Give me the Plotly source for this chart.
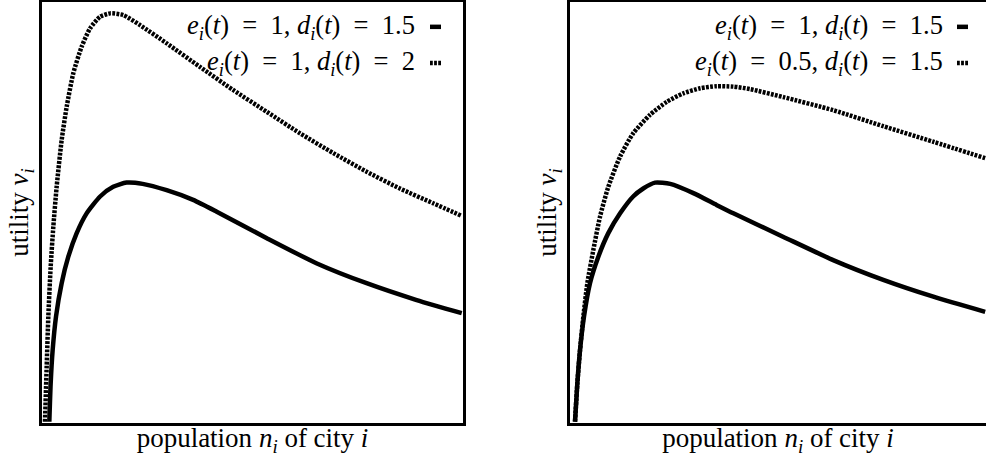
import plotly.graph_objects as go

# normalised population (x) and utility (y)
left_x_solid = [1.74, 2.06, 2.53, 3.33, 4.67, 6.25, 8.24, 10.6, 13.8, 16.9, 20.1, 23.9, 29.6, 35.9,
                41.5, 53.4, 65.3, 77.1, 89.0, 99.7]
left_y_solid = [0.3, 9.4, 17.3, 25.3, 33.2, 39.5, 45.1, 49.8, 53.8, 56.1, 57.1, 56.8, 55.3, 53.0,
                50.2, 43.9, 37.9, 33.2, 29.2, 26.1]
left_x_dot = [0.71, 1.11, 1.50, 2.06, 2.69, 3.48, 4.67, 5.86, 7.44, 9.42, 11.4, 13.8, 16.2, 19.3,
              23.3, 29.6, 37.5, 45.4, 53.4, 61.3, 69.2, 77.1, 85.0, 92.9, 99.7]
left_y_dot = [0.3, 13.4, 25.3, 37.1, 46.6, 56.1, 67.2, 75.1, 83.1, 89.4, 93.7, 96.5, 97.3, 96.9,
              94.5, 90.2, 84.6, 79.1, 73.9, 68.8, 64.1, 59.7, 55.7, 52.2, 49.2]

right_x_solid = [1.19, 1.74, 2.38, 3.33, 4.75, 6.73, 9.10, 11.9, 15.0, 17.4, 20.2, 23.8, 29.3, 34.8,
                 38.8, 50.7, 62.5, 74.4, 86.3, 98.6]
right_y_solid = [0.3, 9.4, 17.3, 25.3, 33.2, 39.5, 45.1, 49.8, 53.8, 55.7, 57.1, 56.8, 54.6, 51.8,
                 49.8, 44.2, 38.7, 34.0, 30.0, 26.4]
right_x_dot = [1.19, 1.74, 2.38, 3.17, 4.12, 5.54, 7.13, 9.10, 11.9, 15.0, 19.0, 23.0, 26.9, 30.9,
               34.8, 38.8, 42.8, 50.7, 62.5, 74.4, 86.3, 98.6]
right_y_dot = [0.3, 9.4, 17.3, 25.3, 33.2, 41.1, 49.0, 56.1, 63.3, 68.8, 73.2, 76.3, 78.3, 79.5,
               80.0, 79.9, 79.3, 77.4, 74.3, 70.5, 66.8, 62.9]

EQ = "\u2002=\u2002"
left_labels = [f"<i>e</i><sub><i>i</i></sub>(<i>t</i>){EQ}1, <i>d</i><sub><i>i</i></sub>(<i>t</i>){EQ}1.5",
               f"<i>e</i><sub><i>i</i></sub>(<i>t</i>){EQ}1, <i>d</i><sub><i>i</i></sub>(<i>t</i>){EQ}2"]
right_labels = [f"<i>e</i><sub><i>i</i></sub>(<i>t</i>){EQ}1, <i>d</i><sub><i>i</i></sub>(<i>t</i>){EQ}1.5",
                f"<i>e</i><sub><i>i</i></sub>(<i>t</i>){EQ}0.5, <i>d</i><sub><i>i</i></sub>(<i>t</i>){EQ}1.5"]
x_title = "population <i>n</i><sub><i>i</i></sub> of city <i>i</i>"
y_title = "utility <i>v</i><sub><i>i</i></sub>"

FONT = "Liberation Serif, serif"
DOT = "2.8px,1.3px"

fig = go.Figure()

def add_curve(x, y, xa, ya, dash):
    fig.add_trace(go.Scatter(x=x, y=y, xaxis=xa, yaxis=ya, mode="lines",
                             line=dict(color="black", width=4.5, dash=dash,
                                       shape="spline", smoothing=0.6),
                             showlegend=False, hoverinfo="skip"))

add_curve(left_x_solid, left_y_solid, "x", "y", "solid")
add_curve(left_x_dot, left_y_dot, "x", "y", DOT)
add_curve(right_x_solid, right_y_solid, "x2", "y2", "solid")
add_curve(right_x_dot, right_y_dot, "x2", "y2", DOT)

axis_common = dict(showgrid=False, zeroline=False, showticklabels=False, ticks="",
                   showline=True, linecolor="black", linewidth=3, automargin=False)

fig.update_layout(
    width=986, height=460,
    margin=dict(l=0, r=0, t=2, b=37),
    plot_bgcolor="white", paper_bgcolor="white",
    font=dict(family=FONT, size=22.5, color="black"),
    xaxis=dict(domain=[42/986, 463/986], range=[0, 100], mirror=True,
               title=dict(text=x_title, standoff=4), **axis_common),
    yaxis=dict(domain=[0, 1], range=[0, 100], mirror=True,
               title=dict(text=y_title, standoff=3), **axis_common),
    xaxis2=dict(domain=[570/986, 1.0], range=[0, 98.8], mirror=True, anchor="y2",
                title=dict(text=x_title, standoff=4), **axis_common),
    yaxis2=dict(domain=[0, 1], range=[0, 100], anchor="x2",
                title=dict(text=y_title, standoff=3), **axis_common),
)

# legends: text right-aligned, short sample line to its right (paper coords)
def add_legend(labels, text_px, s0_px, s1_px):
    for k, (lab, dash) in enumerate(zip(labels, ["solid", DOT])):
        yy = 0.941 - k * 0.086
        fig.add_annotation(text=lab, xref="paper", yref="paper",
                           x=text_px / 986, y=yy, xanchor="right", yanchor="middle",
                           showarrow=False, font=dict(size=26.5, family=FONT))
        fig.add_shape(type="line", xref="paper", yref="paper",
                      x0=s0_px / 986, x1=s1_px / 986, y0=yy, y1=yy,
                      line=dict(color="black", width=4.5, dash=dash))

add_legend(left_labels, 417, 430, 441)
add_legend(right_labels, 945, 957, 968)

# the page's default body margin would shift the figure by 8px
fig.write_html("out.html", config={"displayModeBar": False},
               post_script="document.body.style.margin='0';")
